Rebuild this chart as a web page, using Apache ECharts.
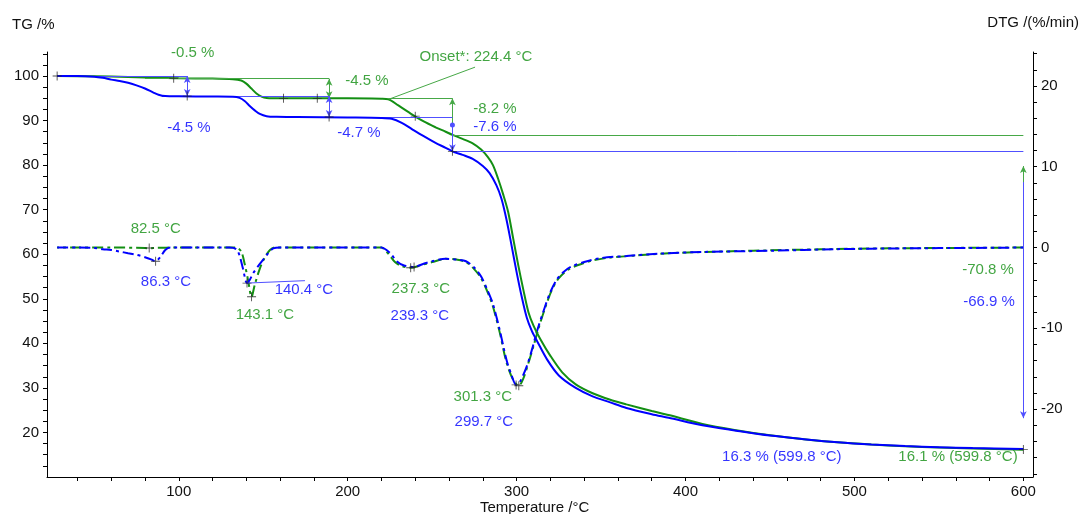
<!DOCTYPE html>
<html>
<head>
<meta charset="utf-8">
<script src="https://cdn.jsdelivr.net/npm/echarts@6/dist/echarts.min.js"></script>
<style>
  html, body { margin: 0; padding: 0; background: #fff; }
  #main { width: 1081px; height: 514px; }
</style>
</head>
<body>
<div id="main"></div>
<script>
// TG curves (temperature °C, mass %)
var tgBlueT = [28, 40, 50, 55, 60, 65, 70, 75, 80, 85, 88, 92, 100, 120, 132, 136, 139, 142, 145, 148, 152, 158, 170, 200, 220, 226, 232, 238, 245, 252, 258, 262, 268, 274, 280, 284, 288, 291, 294, 297, 300, 303, 306, 309, 312, 318, 325, 335, 345, 355, 365, 380, 390, 410, 430, 450, 470, 490, 510, 530, 550, 570, 600];
var tgBlue  = [100, 100, 99.85, 99.6, 99.2, 98.9, 98.5, 97.9, 97.2, 96.3, 95.8, 95.5, 95.45, 95.4, 95.35, 95.1, 94.4, 93.3, 92.3, 91.5, 91.0, 90.85, 90.8, 90.7, 90.6, 90.4, 89.5, 88.1, 86.5, 85.0, 83.9, 83.1, 82.3, 81.4, 79.8, 78.2, 75.5, 72.5, 67.8, 62, 56, 50.5, 45.8, 42.8, 40.6, 36.4, 32.8, 30.0, 28.1, 26.8, 25.5, 24.1, 23.3, 21.6, 20.4, 19.3, 18.5, 17.8, 17.3, 16.95, 16.7, 16.5, 16.3];
var tgGreenT = [28, 50, 70, 90, 100, 120, 132, 137, 140, 143, 146, 149, 152, 160, 200, 220, 224, 230, 238, 245, 252, 258, 262, 268, 274, 279, 283, 286, 289, 292, 295, 298, 301, 304, 307, 310, 314, 320, 327, 335, 345, 355, 365, 380, 390, 410, 430, 450, 470, 490, 510, 530, 550, 570, 600];
var tgGreen  = [100, 99.95, 99.8, 99.6, 99.5, 99.45, 99.3, 99.0, 98.3, 97.2, 96.1, 95.4, 95.1, 95.0, 95.0, 94.9, 94.8, 93.4, 91.4, 89.8, 88.5, 87.5, 86.8, 85.9, 84.9, 83.5, 81.8, 80, 77, 73.5, 69.5, 63.5, 57.5, 52, 47, 44, 41, 37.2, 33.5, 30.8, 28.8, 27.4, 26.3, 24.8, 23.9, 21.9, 20.5, 19.35, 18.5, 17.8, 17.3, 16.9, 16.6, 16.4, 16.1];

// DTG curves (temperature °C, %/min)
var dtgBlueT = [28, 40, 50, 55, 60, 65, 70, 75, 80, 84, 86.3, 89, 92, 95, 130, 134, 136, 138, 140.4, 142, 144, 147, 150, 153, 156, 160, 220, 223, 226, 229, 233, 239.3, 245, 250, 258, 265, 270, 275, 279, 283, 286, 290, 294, 297, 299.7, 302, 306, 309, 312, 317, 320, 324, 328, 332, 340, 350, 365, 385, 410, 450, 490, 530, 570, 600];
var dtgBlue  = [0, 0, -0.05, -0.2, -0.3, -0.5, -0.7, -0.9, -1.2, -1.5, -1.7, -1.2, -0.3, 0, 0, -0.2, -1.0, -2.6, -4.4, -4.0, -3.2, -2.3, -1.5, -0.7, -0.1, 0, 0, -0.3, -0.9, -1.7, -2.2, -2.4, -2.0, -1.7, -1.4, -1.5, -1.7, -2.5, -3.6, -5.4, -7.0, -10.2, -13.9, -15.8, -17.0, -16.6, -14.7, -12.7, -10.4, -7.2, -5.5, -3.9, -3.0, -2.4, -1.8, -1.3, -1.05, -0.75, -0.55, -0.4, -0.2, -0.1, -0.05, 0];
var dtgGreenT = [28, 60, 80, 82.5, 85, 100, 134, 137, 139, 141, 143.1, 145, 148, 151, 154, 157, 220, 222, 225, 228, 232, 237.3, 243, 250, 258, 265, 270, 275, 279, 283, 286, 290, 294, 298, 301.3, 304, 307, 310, 313, 317, 321, 325, 330, 336, 345, 355, 370, 390, 420, 460, 500, 540, 600];
var dtgGreen  = [0, 0, -0.05, -0.1, -0.05, 0, 0, -0.5, -2.0, -4.0, -6.1, -4.6, -2.6, -1.2, -0.3, 0, 0, -0.3, -1.0, -1.8, -2.3, -2.5, -2.2, -1.8, -1.4, -1.5, -1.8, -2.7, -3.8, -5.6, -7.3, -10.5, -14.2, -16.4, -17.1, -16.2, -14.3, -12.2, -10.0, -7.4, -5.2, -3.8, -2.8, -2.2, -1.6, -1.25, -1.0, -0.7, -0.5, -0.3, -0.15, -0.07, 0];

// tick labels
var tempTicks = [100, 200, 300, 400, 500, 600];
var tgTicks = [20, 30, 40, 50, 60, 70, 80, 90, 100];
var dtgTicks = [-20, -10, 0, 10, 20];

// step evaluation texts: [T, TG%, text]
var greenNotes = [
  [108.3, 105.2, '-0.5 %'], [211.4, 98.9, '-4.5 %'], [275.9, 104.3, 'Onset*: 224.4 °C'],
  [287.2, 92.6, '-8.2 %'], [86.4, 65.7, '82.5 °C'], [151.0, 46.4, '143.1 °C'],
  [243.3, 52.2, '237.3 °C'], [280.0, 28.0, '301.3 °C'], [579.1, 56.5, '-70.8 %'],
  [561.3, 14.5, '16.1 % (599.8 °C)']
];
var blueNotes = [
  [106.0, 88.3, '-4.5 %'], [206.6, 87.2, '-4.7 %'], [287.2, 88.6, '-7.6 %'],
  [92.4, 53.8, '86.3 °C'], [174.1, 52.0, '140.4 °C'], [242.7, 46.1, '239.3 °C'],
  [280.6, 22.4, '299.7 °C'], [579.7, 49.3, '-66.9 %'], [457.0, 14.5, '16.3 % (599.8 °C)']
];
// evaluation crosses
var tgCrosses = [[28, 100], [97, 99.5], [105, 95.5], [162, 95.0], [182, 95.0], [189, 90.8], [240, 91.0], [262, 83.1], [600, 16.2]];
var dtgCrosses = [[82.5, -0.05], [86.3, -1.7], [140.4, -4.4], [143.1, -6.1], [237.3, -2.5], [239.3, -2.4], [299.7, -17.0], [301.3, -17.1]];

var GREEN = '#138f13';
var BLUE = '#0000ff';
var GREEN_THIN = '#46a846';
var BLUE_THIN = '#5050ff';
var FONT = 'Liberation Sans, Arial, sans-serif';

function zip(a, b) { return a.map(function (t, i) { return [t, b[i]]; }); }
function range(a, b, s) { var r = []; for (var v = a; v <= b + 1e-9; v += s) r.push(+v.toFixed(2)); return r; }
function seg(x1, y1, x2, y2, sym) {
  return [{ coord: [x1, y1], symbol: sym ? sym[0] : 'none' },
          { coord: [x2, y2], symbol: sym ? sym[1] : 'none' }];
}
function marks(color, list) {
  return {
    silent: true, symbol: 'none', symbolSize: [5, 7], label: { show: false },
    itemStyle: { color: color },
    lineStyle: { type: 'solid', width: 1, color: color, opacity: 1 },
    data: list
  };
}
function notes(list, color) {
  return {
    type: 'scatter', yAxisIndex: 0, symbolSize: 0, silent: true, z: 6,
    data: list.map(function (n) { return { value: [n[0], n[1]], name: n[2] }; }),
    label: { show: true, position: 'inside', formatter: '{b}', color: color, fontSize: 15, fontFamily: FONT }
  };
}

var myChart = echarts.init(document.getElementById('main'));

var axisLine = { show: true, onZero: false, lineStyle: { color: '#000', width: 1 } };

myChart.setOption({
  animation: false,
  backgroundColor: '#fff',
  grid: { left: 47, right: 48, top: 52, bottom: 37 },
  xAxis: {
    type: 'value', min: 22, max: 605.7,
    axisLine: axisLine, splitLine: { show: false },
    axisTick: { show: true, length: 4, customValues: range(40, 600, 20), lineStyle: { color: '#000' } },
    axisLabel: { color: '#111', fontSize: 15, fontFamily: FONT, margin: 7, customValues: tempTicks }
  },
  yAxis: [{
    type: 'value', position: 'left', min: 10, max: 105.4,
    axisLine: axisLine, splitLine: { show: false },
    axisTick: { show: true, length: 4, customValues: range(12.5, 105, 2.5), lineStyle: { color: '#000' } },
    axisLabel: { color: '#111', fontSize: 15, fontFamily: FONT, margin: 8, customValues: tgTicks }
  }, {
    type: 'value', position: 'right', min: -28.4, max: 24.2,
    axisLine: axisLine, splitLine: { show: false },
    axisTick: { show: true, length: 4, customValues: range(-28, 24, 2), lineStyle: { color: '#000' } },
    axisLabel: { color: '#111', fontSize: 15, fontFamily: FONT, margin: 8, customValues: dtgTicks }
  }],
  graphic: [
    { type: 'text', left: 12, top: 17, style: { text: 'TG /%', fontSize: 15, fontFamily: FONT, fill: '#111' } },
    { type: 'text', right: 2, top: 15, style: { text: 'DTG /(%/min)', fontSize: 15, fontFamily: FONT, fill: '#111' } },
    { type: 'text', left: 480, top: 500, style: { text: 'Temperature /°C', fontSize: 15, fontFamily: FONT, fill: '#111' } }
  ],
  series: [
    {
      name: 'DTG green', type: 'line', yAxisIndex: 1, showSymbol: false, smooth: 0.3, z: 2,
      data: zip(dtgGreenT, dtgGreen),
      lineStyle: { color: GREEN, width: 2, type: [11, 4, 3, 4], dashOffset: 9 }
    },
    {
      name: 'DTG blue', type: 'line', yAxisIndex: 1, showSymbol: false, smooth: 0.3, z: 3,
      data: zip(dtgBlueT, dtgBlue),
      lineStyle: { color: BLUE, width: 2, type: [11, 4, 3, 4] },
      markLine: marks(BLUE_THIN, [seg(140.4, -4.4, 174.7, -4.1)])
    },
    {
      name: 'TG green', type: 'line', yAxisIndex: 0, showSymbol: false, smooth: 0.3, z: 4,
      data: zip(tgGreenT, tgGreen),
      lineStyle: { color: GREEN, width: 2 },
      markLine: marks(GREEN_THIN, [
        seg(80, 99.4, 189, 99.4),
        seg(224, 95.0, 262, 95.0),
        seg(262, 86.8, 600, 86.8),
        seg(189, 99.4, 189, 95.0, ['arrow', 'arrow']),
        seg(262, 86.8, 262, 95.0, ['none', 'arrow']),
        seg(600, 26, 600, 79.8, ['none', 'arrow']),
        seg(224.4, 94.8, 275.4, 102.0)
      ])
    },
    {
      name: 'TG blue', type: 'line', yAxisIndex: 0, showSymbol: false, smooth: 0.3, z: 5,
      data: zip(tgBlueT, tgBlue),
      lineStyle: { color: BLUE, width: 2 },
      markLine: marks(BLUE_THIN, [
        seg(28, 100, 105, 100),
        seg(90, 95.5, 189, 95.5),
        seg(189, 90.8, 262, 90.8),
        seg(262, 83.1, 600, 83.1),
        seg(105, 100, 105, 95.5, ['arrow', 'arrow']),
        seg(189, 95.5, 189, 90.8, ['arrow', 'arrow']),
        seg(262, 89.0, 262, 83.1, ['circle', 'arrow']),
        seg(600, 76.2, 600, 23.2, ['none', 'arrow'])
      ])
    },
    {
      name: 'tg marks', type: 'scatter', yAxisIndex: 0, z: 7, silent: true,
      symbol: 'path://M4.5,0h1v10h-1z M0,4.5h10v1h-10z', symbolSize: 9,
      itemStyle: { color: '#222' }, data: tgCrosses
    },
    {
      name: 'dtg marks', type: 'scatter', yAxisIndex: 1, z: 7, silent: true,
      symbol: 'path://M4.5,0h1v10h-1z M0,4.5h10v1h-10z', symbolSize: 9,
      itemStyle: { color: '#222' }, data: dtgCrosses
    },
    notes(greenNotes, GREEN),
    notes(blueNotes, BLUE)
  ]
});
</script>
</body>
</html>
